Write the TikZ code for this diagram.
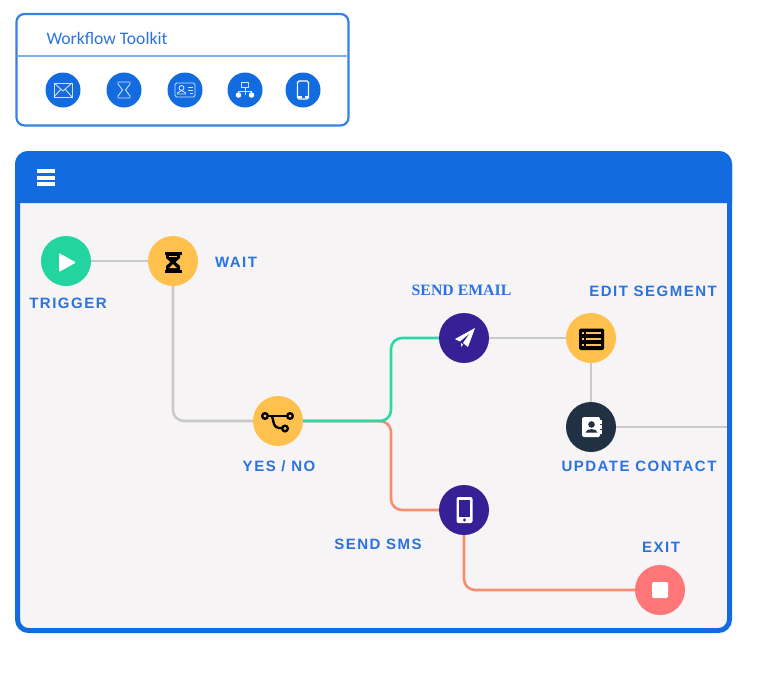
\documentclass[tikz,border=0pt]{standalone}
\usepackage{fontspec}
\setmainfont{Liberation Sans}
\newfontfamily\labelfont[LetterSpace=10]{Liberation Sans}
\newfontfamily\toolfont{Carlito}
\newfontfamily\emailfont{Liberation Serif}
\definecolor{brandblue}{HTML}{126BDF}
\definecolor{linkblue}{HTML}{2A72E0}
\definecolor{panelgray}{HTML}{F6F4F5}
\definecolor{wiregray}{HTML}{C9C9C9}
\definecolor{wiregreen}{HTML}{2FD6A6}
\definecolor{wirecoral}{HTML}{F98D6F}
\definecolor{stepgreen}{HTML}{21D4A0}
\definecolor{stepamber}{HTML}{FFC04D}
\definecolor{steppurple}{HTML}{352095}
\definecolor{stepnavy}{HTML}{223044}
\definecolor{stepcoral}{HTML}{FF7678}
\tikzset{
  stepdot/.style={circle,minimum size=50pt,inner sep=0pt,fill=#1},
  tooldot/.style={circle,minimum size=35pt,inner sep=0pt,fill=brandblue},
  steplabel/.style={text=linkblue,font=\fontsize{15}{15}\labelfont\bfseries,inner sep=0pt},
  wire/.style={line width=2.6pt,color=#1,rounded corners=11pt},
  toolicon/.style={draw=white!80!brandblue,line width=0.9pt},
}
\begin{document}
\begin{tikzpicture}[x=1pt,y=-1pt]
\useasboundingbox (0,0) rectangle (768,672);

% toolkit box
\draw[brandblue!85,line width=2.2pt,rounded corners=8pt] (16.5,14) rectangle (348.5,125.5);
\draw[brandblue!55,line width=1.6pt] (17,56)--(348,56);
\node[text=linkblue,font=\fontsize{17.6}{17.6}\toolfont,inner sep=0pt] (toolkit) at (107,38) {Workflow Toolkit};
\node[tooldot] (mailtool) at (63,90) {};
\node[tooldot] (waittool) at (124,90) {};
\node[tooldot] (cardtool) at (185,90) {};
\node[tooldot] (treetool) at (245,90) {};
\node[tooldot] (phonetool) at (303,90) {};

\begin{scope}[shift={(mailtool)},toolicon]
\draw (-9,-7) rectangle (9,7);
\draw (-9,-7)--(0,1)--(9,-7);
\draw (-9,7)--(-2,-1);
\draw (9,7)--(2,-1);
\end{scope}
\begin{scope}[shift={(waittool)},toolicon]
\draw (-6,-8)--(6,-8)--(6,-6)--(1.5,0)--(6,6)--(6,8)--(-6,8)--(-6,6)--(-1.5,0)--(-6,-6)--cycle;
\end{scope}
\begin{scope}[shift={(cardtool)},toolicon]
\draw[rounded corners=1.5pt] (-10,-7) rectangle (10,7);
\draw (-3.5,-2) circle (2.5);
\draw (-7.5,4)--(-7.5,3)--(-4.5,1)--(-2.5,1)--(0.5,3)--(0.5,4)--cycle;
\draw (3,-3)--(7.5,-3);
\draw (3,0)--(7.5,0);
\draw (5,3)--(7.5,3);
\end{scope}
\begin{scope}[shift={(treetool)},toolicon]
\draw (-3.5,-8) rectangle (3.5,-3);
\draw (0,-3)--(0,1);
\draw (-6.5,5)--(-6.5,1)--(6.5,1)--(6.5,5);
\draw (0,1)--(0,5);
\fill[white] (-6.5,5) circle (2.8);
\fill[white] (6.5,5) circle (2.8);
\end{scope}
\begin{scope}[shift={(phonetool)},toolicon]
\draw[line width=1.2pt,draw=white,rounded corners=1.5pt] (-5.5,-9) rectangle (5.5,9);
\draw[line width=2pt,draw=white] (-5.5,6.5)--(-1.5,6.5);
\draw[line width=2pt,draw=white] (1.5,6.5)--(5.5,6.5);
\end{scope}

% main panel
\draw[fill=panelgray,draw=brandblue,line width=5pt,rounded corners=11pt] (17.5,153.5) rectangle (729.5,630.5);
\fill[brandblue] (15,203) [rounded corners=13pt] -- (15,151) -- (732,151) [sharp corners] -- (732,203) -- cycle;
\fill[white] (37,169) rectangle (55,173);
\fill[white] (37,175.5) rectangle (55,179.5);
\fill[white] (37,182) rectangle (55,186);

\node[stepdot=stepgreen] (trigger) at (66,261) {};
\node[stepdot=stepamber] (wait) at (173,261) {};
\node[stepdot=stepamber] (yesno) at (278,421) {};
\node[stepdot=steppurple] (email) at (464,338) {};
\node[stepdot=stepamber] (segment) at (591,338) {};
\node[stepdot=stepnavy] (update) at (591,427) {};
\node[stepdot=steppurple] (sms) at (464,510) {};
\node[stepdot=stepcoral] (exit) at (660,590) {};
\coordinate (branch) at (391,421);
\coordinate (offpanel) at (727,427);

\draw[wire=wiregray] (trigger)--(wait);
\draw[wire=wiregray] (wait) |- (yesno);
\draw[wire=wirecoral] (yesno)--(branch) |- (sms);
\draw[wire=wiregreen] (yesno)--(branch) |- (email);
\draw[wire=wiregray] (email)--(segment);
\draw[wire=wiregray] (segment)--(update);
\draw[wire=wiregray] (update)--(offpanel);
\draw[wire=wirecoral] (sms) |- (exit);

\node[steplabel] (triggerlabel) at (68,303) {TRIGGER};
\node[steplabel] (waitlabel) at (236,262) {WAIT};
\node[steplabel] (yesnolabel) at (279,466) {YES / NO};
\node[text=linkblue,font=\fontsize{15.8}{15.8}\emailfont\bfseries,inner sep=0pt] (emaillabel) at (461.5,290) {SEND EMAIL};
\node[steplabel] (segmentlabel) at (653,291) {EDIT SEGMENT};
\node[steplabel] (updatelabel) at (639,466) {UPDATE CONTACT};
\node[steplabel] (smslabel) at (378,544) {SEND SMS};
\node[steplabel] (exitlabel) at (661,547) {EXIT};

% icons on the steps
\begin{scope}[shift={(trigger)}]
\fill[white,rounded corners=1pt] (-7,-8)--(10,1.5)--(-7,11)--cycle;
\end{scope}
\begin{scope}[shift={(wait)}]
\fill[black] (-8.5,-9.5) rectangle (8.5,-6.5);
\fill[black] (-8.5,9) rectangle (8.5,12);
\fill[black] (-7,-7)--(7,-7)--(7,-3)--(2.5,1)--(7,5)--(7,10)--(-7,10)--(-7,5)--(-2.5,1)--(-7,-3)--cycle;
\fill[stepamber] (-4,-5.5)--(4,-5.5)--(4,-4)--(-4,-4)--cycle;
\fill[stepamber] (0,3)--(4,7)--(-4,7)--cycle;
\end{scope}
\begin{scope}[shift={(yesno)}]
\draw[black,line width=2.4pt] (-12,-5)--(11,-5);
\draw[black,line width=2.4pt,rounded corners=4pt] (-6,-5)--(-3,7)--(6,7);
\draw[black,fill=stepamber,line width=2.4pt] (-13,-5) circle (2.8);
\draw[black,fill=stepamber,line width=2.4pt] (12,-5) circle (2.8);
\draw[black,fill=stepamber,line width=2.4pt] (7,7.5) circle (2.8);
\end{scope}
\begin{scope}[shift={(email)}]
\fill[white] (11,-10)--(-9,1)--(-4,3.5)--(6,-5)--(-1,5)--(4,9)--cycle;
\fill[white] (-3,5)--(-1,6.5)--(-3,9)--cycle;
\end{scope}
\begin{scope}[shift={(segment)}]
\fill[black,rounded corners=1.5pt] (-12,-9.5) rectangle (13,12);
\foreach \y in {-5,1,7} {
  \fill[stepamber] (-9,\y-1) rectangle (-7,\y+1);
  \fill[stepamber] (-5,\y-1) rectangle (9.5,\y+1);
}
\end{scope}
\begin{scope}[shift={(update)}]
\fill[white,rounded corners=1.5pt] (-9,-10) rectangle (9,10);
\fill[white] (9,-7) rectangle (11,-3);
\fill[white] (9,-2) rectangle (11,2);
\fill[white] (9,3) rectangle (11,7);
\fill[stepnavy] (0.5,-2.5) circle (3.3);
\fill[stepnavy] (-5.5,5.5) .. controls (-4.5,1) and (5.5,1) .. (6.5,5.5) -- cycle;
\end{scope}
\begin{scope}[shift={(sms)}]
\fill[white,rounded corners=2pt] (-7.5,-13) rectangle (8.5,13);
\fill[steppurple] (-5,-10.5) rectangle (6,7);
\fill[steppurple] (0.5,10) circle (1.6);
\end{scope}
\begin{scope}[shift={(exit)}]
\fill[white,rounded corners=1.5pt] (-8,-8) rectangle (8,8);
\end{scope}
\end{tikzpicture}
\end{document}
